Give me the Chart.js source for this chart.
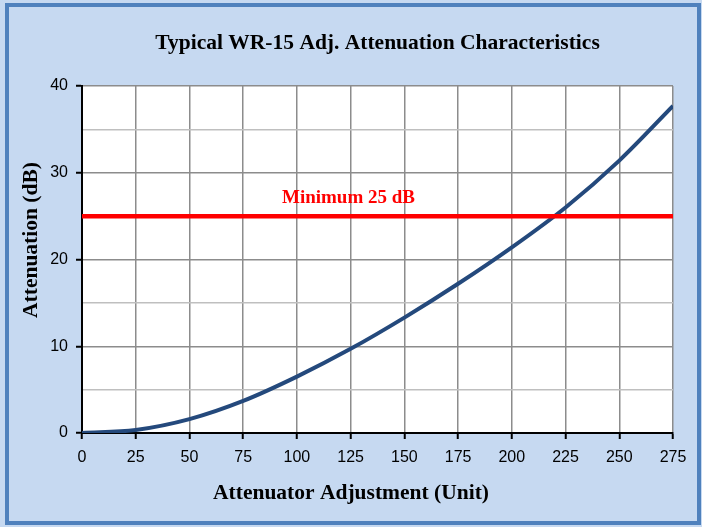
<!DOCTYPE html>
<html>
<head>
<meta charset="utf-8">
<script src="https://cdn.jsdelivr.net/npm/chart.js@4.4.1/dist/chart.umd.min.js"></script>
<style>
  html, body { margin: 0; padding: 0; background: #fff; }
  #wrap { width: 702px; height: 527px; }
</style>
</head>
<body>
<div id="wrap"><canvas id="attChart" width="702" height="527"></canvas></div>
<script>
// values
const adjustment = [0, 25, 50, 75, 100, 125, 150, 175, 200, 225, 250, 275];
const attenuation = [0, 0.35, 1.6, 3.7, 6.5, 9.7, 13.3, 17.2, 21.4, 26.0, 31.4, 37.7];
const minimumLevel = 25;
const minimumRange = [0, 275];
const minimumLabel = 'Minimum 25 dB';
const labelAt = { x: 124, y: 26.5 };

const chartTitle = 'Typical WR-15 Adj. Attenuation Characteristics';
const xTitle = 'Attenuator Adjustment (Unit)';
const yTitle = 'Attenuation (dB)';

const serif = '"Liberation Serif", "Times New Roman", serif';
const sans = '"Liberation Sans", Arial, sans-serif';

// background, frame and the hand placed texts
const decor = {
    id: 'decor',
    beforeDraw(chart) {
        const { ctx, chartArea: a } = chart;
        ctx.save();
        ctx.fillStyle = '#C6D9F1';
        ctx.fillRect(0, 0, chart.width, chart.height);
        ctx.strokeStyle = '#4F81BD';
        ctx.lineWidth = 4;
        ctx.strokeRect(7, 5, 692, 518);
        ctx.fillStyle = '#FFFFFF';
        ctx.fillRect(a.left, a.top, a.right - a.left, a.bottom - a.top);
        ctx.restore();
    },
    afterDraw(chart) {
        const { ctx, chartArea: a, scales } = chart;
        ctx.save();
        ctx.fillStyle = '#000';
        ctx.textAlign = 'center';
        ctx.textBaseline = 'alphabetic';
        ctx.font = 'bold 21.5px ' + serif;
        ctx.fillText(chartTitle, (a.left + a.right) / 2, 49);
        ctx.fillText(xTitle, chart.width / 2, 499);
        ctx.save();
        ctx.translate(37, 240);
        ctx.rotate(-Math.PI / 2);
        ctx.fillText(yTitle, 0, 0);
        ctx.restore();
        ctx.fillStyle = '#FF0000';
        ctx.font = 'bold 19px ' + serif;
        ctx.fillText(minimumLabel, scales.x.getPixelForValue(labelAt.x), scales.y.getPixelForValue(labelAt.y));
        ctx.restore();
    }
};

document.addEventListener('DOMContentLoaded', function () {
    const ctx = document.getElementById('attChart').getContext('2d');

    new Chart(ctx, {
        type: 'line',
        data: {
            datasets: [{
                label: 'Attenuation',
                data: adjustment.map((x, i) => ({ x: x, y: attenuation[i] })),
                borderColor: '#24497C',
                borderWidth: 4,
                pointRadius: 0,
                cubicInterpolationMode: 'monotone',
                order: 2
            }, {
                label: minimumLabel,
                data: minimumRange.map(x => ({ x: x, y: minimumLevel })),
                borderColor: '#FF0000',
                borderWidth: 4.5,
                pointRadius: 0,
                order: 1
            }]
        },
        options: {
            responsive: false,
            animation: false,
            layout: { padding: { top: 86, right: 29, left: 0, bottom: 0 } },
            plugins: {
                legend: { display: false },
                tooltip: { enabled: false }
            },
            scales: {
                x: {
                    type: 'linear',
                    min: 0,
                    max: 275,
                    afterFit: s => { s.height = 94; },
                    border: { color: '#000', width: 2 },
                    grid: {
                        color: '#8C8C8C',
                        lineWidth: 1.5,
                        tickLength: 6,
                        tickColor: '#000',
                        tickWidth: 2
                    },
                    ticks: {
                        stepSize: 25,
                        padding: 9,
                        color: '#000',
                        maxRotation: 0,
                        autoSkip: false,
                        font: { family: sans, size: 16 }
                    }
                },
                y: {
                    min: 0,
                    max: 40,
                    afterFit: s => { s.width = 82; },
                    border: { color: '#000', width: 2 },
                    grid: {
                        color: c => c.tick && c.tick.value % 10 === 0 ? '#8C8C8C' : '#BFBFBF',
                        lineWidth: 1.5,
                        tickLength: 6,
                        tickColor: c => c.tick && c.tick.value % 10 === 0 ? '#000' : 'rgba(0,0,0,0)',
                        tickWidth: 2
                    },
                    ticks: {
                        stepSize: 5,
                        padding: 8,
                        color: '#000',
                        autoSkip: false,
                        font: { family: sans, size: 16 },
                        callback: v => (v % 10 === 0 ? v : '')
                    }
                }
            }
        },
        plugins: [decor]
    });
});
</script>
</body>
</html>
